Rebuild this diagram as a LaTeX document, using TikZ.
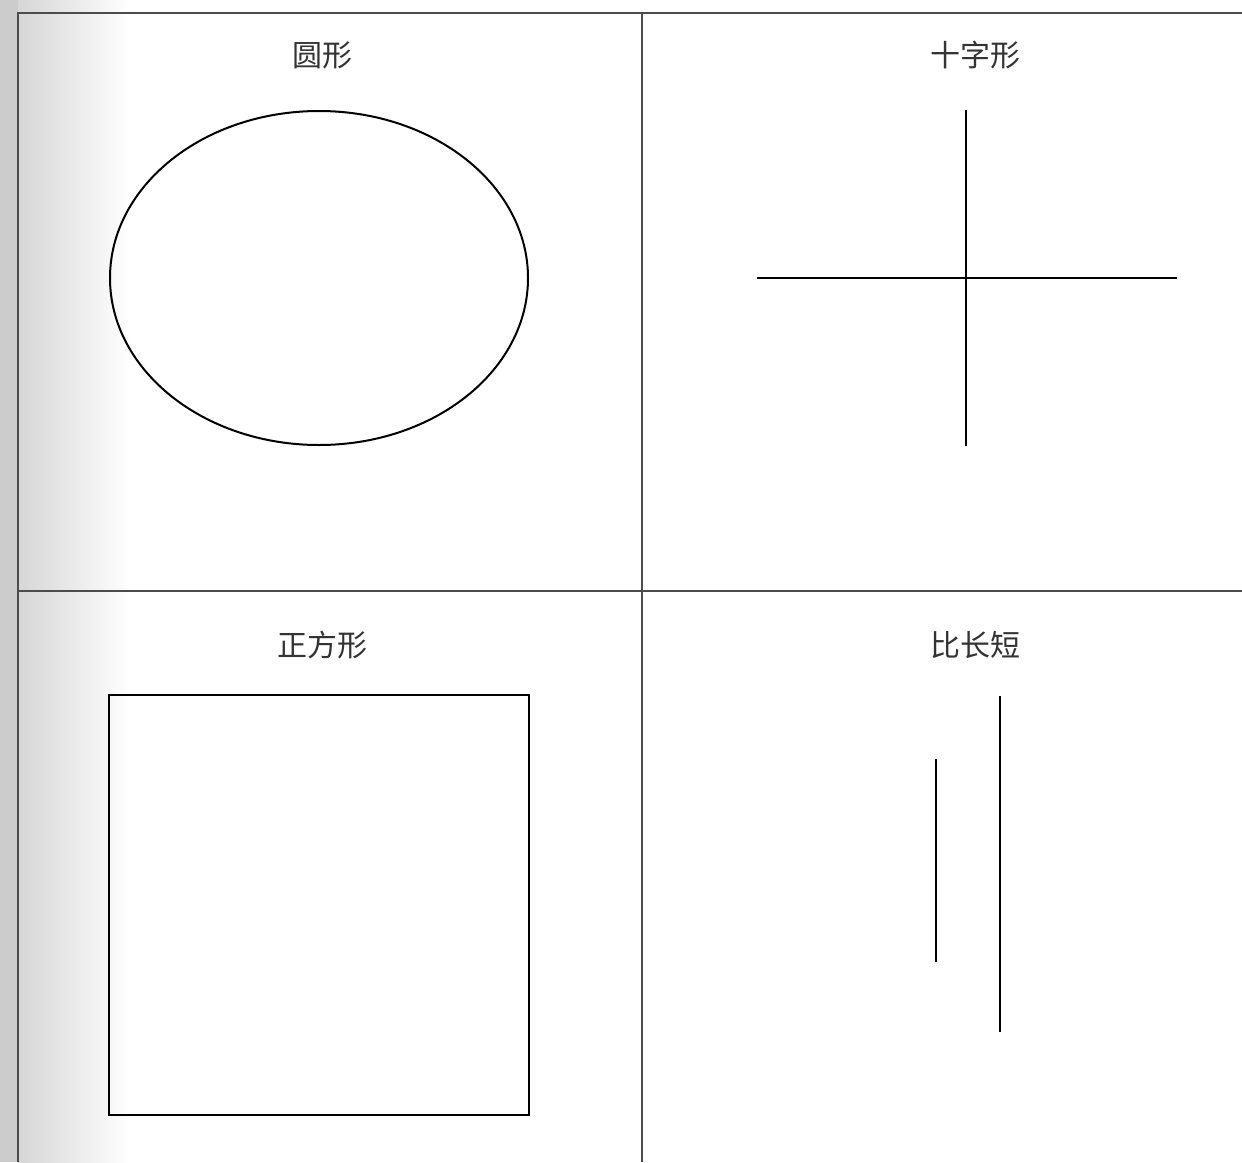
\documentclass[tikz,border=0pt]{standalone}
\usepackage{fontspec}
\newfontfamily\cjk{Noto Sans CJK SC}
\usetikzlibrary{positioning}

\begin{document}
\begin{tikzpicture}[x=1pt,y=-1pt,
    title/.style={font=\cjk\fontsize{30}{32}\selectfont, text=black!80, inner sep=0pt},
    gridline/.style={draw=black!70, line width=1.8pt},
    shapeline/.style={draw=black, line width=2pt}]
    \useasboundingbox (0,0) rectangle (1242,1162);
    % grey page edge
    \fill[black!20] (0,0) rectangle (18,1162);
    \shade[left color=black!16, right color=white] (18,0) rectangle (130,1162);

    % grid
    \draw[gridline] (18,1162) -- (18,13) -- (1242,13);
    \draw[gridline] (642,13) -- (642,1162);
    \draw[gridline] (18,591) -- (1242,591);

    % titles
    \node[title] (t1) at (322,55) {圆形};
    \node[title] (t2) at (975,55) {十字形};
    \node[title] (t3) at (322,645) {正方形};
    \node[title] (t4) at (975,645) {比长短};

    % circle
    \draw[shapeline] (319,278) ellipse [x radius=209, y radius=167];

    % cross
    \coordinate (c1) at (966,110);
    \coordinate (c2) at (966,446);
    \coordinate (c3) at (757,278);
    \coordinate (c4) at (1177,278);
    \draw[shapeline, line width=2.5pt] (c1) -- (c2);
    \draw[shapeline, line width=2.5pt] (c3) -- (c4);

    % square
    \draw[shapeline] (109,695) rectangle (529,1115);

    % short and long
    \coordinate (s1) at (936,759);
    \coordinate (s2) at (936,962);
    \coordinate (l1) at (1000,696);
    \coordinate (l2) at (1000,1032);
    \draw[shapeline, line width=2.5pt] (s1) -- (s2);
    \draw[shapeline, line width=2.5pt] (l1) -- (l2);
\end{tikzpicture}
\end{document}
